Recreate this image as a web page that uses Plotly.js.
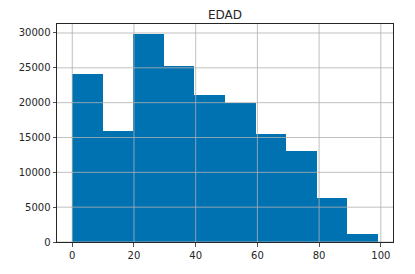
<!DOCTYPE html>
<html>
<head>
<meta charset="utf-8">
<script src="https://cdn.plot.ly/plotly-3.0.1.min.js"></script>
<style>html,body{margin:0;padding:0;background:#fff;}#chart{width:415px;height:274px;}</style>
</head>
<body>
<div id="chart"></div>
<script>
// Histogram of EDAD: 10 bins between 0 and 99
const binLeft = [0, 9.9, 19.8, 29.7, 39.6, 49.5, 59.4, 69.3, 79.2, 89.1];
const binWidth = 9.9;
const counts = [24150, 15970, 29800, 25250, 21100, 19950, 15500, 13100, 6250, 1200];
const xTicks = [0, 20, 40, 60, 80, 100];
const yTicks = [0, 5000, 10000, 15000, 20000, 25000, 30000];
const titleText = "EDAD";

const gridColor = "#b0b0b0";
const shapes = [];
xTicks.forEach(v => shapes.push({type:"line", xref:"x", yref:"paper", x0:v, x1:v, y0:0, y1:1, layer:"above", line:{color:gridColor, width:0.8}}));
yTicks.forEach(v => shapes.push({type:"line", xref:"paper", yref:"y", x0:0, x1:1, y0:v, y1:v, layer:"above", line:{color:gridColor, width:0.8}}));

const trace = {
  type: "bar",
  x: binLeft,
  y: counts,
  width: binLeft.map(() => binWidth),
  offset: 0,
  marker: {color: "#0072b2", line: {width: 0}},
  hoverinfo: "none"
};

const layout = {
  width: 415, height: 274,
  margin: {l: 57.3, r: 22.3, t: 24.3, b: 31.7},
  paper_bgcolor: "#fff", plot_bgcolor: "#fff",
  font: {family: "DejaVu Sans", size: 10, color: "#262626"},
  title: {text: titleText, font: {family: "DejaVu Sans", size: 12, color: "#262626"}, x: 0.5, xanchor: "center", xref: "paper", y: 1, yref: "paper", yanchor: "bottom", pad: {b: 5}},
  showlegend: false,
  bargap: 0,
  xaxis: {range: [-4.95, 103.95], tickvals: xTicks, ticktext: xTicks.map(String), showgrid: false, zeroline: false,
          showline: true, mirror: true, linecolor: "#262626", linewidth: 1, ticks: "outside", ticklen: 3.5, tickwidth: 0.8, tickcolor: "#262626"},
  yaxis: {range: [0, 31290], tickvals: yTicks, ticktext: yTicks.map(String), showgrid: false, zeroline: false,
          showline: true, mirror: true, linecolor: "#262626", linewidth: 1, ticks: "outside", ticklen: 3.5, tickwidth: 0.8, tickcolor: "#262626"},
  shapes: shapes
};

Plotly.newPlot("chart", [trace], layout, {staticPlot: true, displayModeBar: false});
</script>
</body>
</html>
